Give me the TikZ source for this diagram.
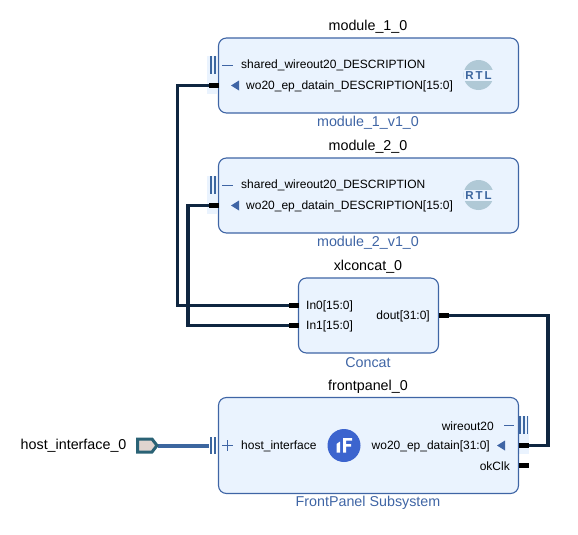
\documentclass[tikz,border=0pt]{standalone}
\usepackage{fontspec}
\setmainfont{Liberation Sans}
\definecolor{boxfill}{HTML}{EAF3FE}
\definecolor{boxline}{HTML}{3F65A5}
\definecolor{wirec}{HTML}{0F2640}
\definecolor{buscol}{HTML}{3C669F}
\definecolor{rtlc}{HTML}{B0C9D6}
\definecolor{fpc}{HTML}{3C64CE}
\definecolor{extfill}{HTML}{E0D4CF}
\definecolor{extline}{HTML}{2A6275}
\tikzset{x=1pt,y=-1pt,
 ipbox/.style={draw=boxline,fill=boxfill,line width=1.1pt,rounded corners=8pt,inner sep=0pt},
 inst/.style={font=\fontsize{14.3}{16}\selectfont,text=black,inner sep=0pt},
 ipname/.style={font=\fontsize{14.3}{16}\selectfont,text=boxline,inner sep=0pt},
 pinl/.style={font=\fontsize{12}{14}\selectfont,text=black,inner sep=0pt},
 wire/.style={draw=wirec,line width=3.2pt,line join=miter},
 stub/.style={draw=black,line width=4.6pt},
 busw/.style={draw=buscol,line width=4pt},
 tri/.style={fill=boxline,draw=none},
 bar/.style={draw=buscol,line width=1.6pt}}
\newcommand{\rtlicon}[2]{%
 \fill[rtlc] (#1,#2) circle[radius=15];
 \fill[boxfill] (#1-15,#2-5) rectangle (#1+15,#2+5.5);
 \node[inner sep=0pt,font=\fontsize{11.5}{12}\selectfont\bfseries,text=buscol] at (#1,#2+0.5) {R\,T\,L};}
\newcommand{\barsl}[2]{%
 \fill[boxfill] (#1-1,#2-9) rectangle (#1+9,#2+29);
 \draw[bar] (#1+3,#2-9) -- (#1+3,#2+9);
 \draw[bar] (#1+7,#2-9) -- (#1+7,#2+9);}
\begin{document}
\begin{tikzpicture}
\useasboundingbox (0,0) rectangle (578,535);
% highlights and bus bars
\barsl{208}{65}
\barsl{208}{185}
% boxes
\path[ipbox] (218.5,38) rectangle (518.5,113);
\coordinate (m1) at (218.5,85.5);
\path[ipbox] (218.5,158) rectangle (518.5,233);
\coordinate (m2) at (218.5,205.5);
\path[ipbox] (298.5,278) rectangle (438.5,353);
\coordinate (c0) at (298.5,305.5);
\coordinate (c1) at (298.5,325.5);
\coordinate (cd) at (438.5,315.5);
\fill[boxfill] (518,416) rectangle (529,454);
\path[ipbox] (218.5,397.5) rectangle (518.5,493.5);
\coordinate (fw) at (518.5,445.5);
\coordinate (fk) at (518.5,465.5);
% titles
\node[inst] (t1) at (368,26.5) {module\_1\_0};
\node[ipname] (n1) at (368,123) {module\_1\_v1\_0};
\node[inst] (t2) at (368,146.5) {module\_2\_0};
\node[ipname] (n2) at (368,243) {module\_2\_v1\_0};
\node[inst] (t3) at (368,266.5) {xlconcat\_0};
\node[ipname] (n3) at (368,363) {Concat};
\node[inst] (t4) at (368,386.5) {frontpanel\_0};
\node[ipname] (n4) at (368,503) {FrontPanel Subsystem};
\node[inst,anchor=west] (hl) at (20.5,446) {host\_interface\_0};
% pin labels module 1
\draw[boxline,line width=.8pt] (222,65) -- (233,65);
\node[pinl,anchor=west] at (241,65.5) {shared\_wireout20\_DESCRIPTION};
\fill[tri] (239,80.5) -- (239,90.5) -- (231,85.5) -- cycle;
\node[pinl,anchor=west] at (246,86) {wo20\_ep\_datain\_DESCRIPTION[15:0]};
\rtlicon{478.5}{75}
% pin labels module 2
\draw[boxline,line width=.8pt] (222,185) -- (233,185);
\node[pinl,anchor=west] at (241,185.5) {shared\_wireout20\_DESCRIPTION};
\fill[tri] (239,200.5) -- (239,210.5) -- (231,205.5) -- cycle;
\node[pinl,anchor=west] at (246,206) {wo20\_ep\_datain\_DESCRIPTION[15:0]};
\rtlicon{478.5}{195}
% concat
\node[pinl,anchor=west] at (306,306) {In0[15:0]};
\node[pinl,anchor=west] at (306,326) {In1[15:0]};
\node[pinl,anchor=east] at (430,316) {dout[31:0]};
% frontpanel
\draw[boxline,line width=.8pt] (222,445.5) -- (233,445.5) (227.5,440) -- (227.5,451);
\node[pinl,anchor=west] at (241,446) {host\_interface};
\fill[fpc] (344,445.5) circle[radius=16.5];
\fill[white] (343,438) rectangle (352,440.5) (343,438) rectangle (346,452.5) (346,444) rectangle (351,446.5);
\fill[white] (336.5,444) -- (340,441.5) -- (340,452.5) -- (336.5,452.5) -- cycle;
\node[pinl,anchor=east] at (494,426) {wireout20};
\draw[boxline,line width=.8pt] (504,425) -- (514,425);
\draw[bar] (520,416) -- (520,434) (524,416) -- (524,434) (527.5,416) -- (527.5,434);
\node[pinl,anchor=east] at (490,446) {wo20\_ep\_datain[31:0]};
\fill[tri] (505,440.5) -- (505,450.5) -- (497,445.5) -- cycle;
\node[pinl,anchor=east] at (510,466) {okClk};
% wires
\draw[wire] ([xshift=-10]m1) -- (177.5,85.5) -- (177.5,305.5) -- ([xshift=-10]c0);
\draw[wire] ([xshift=-10]m2) -- (188,205.5) -- (188,325.5) -- ([xshift=-10]c1);
\draw[wire] ([xshift=10]cd) -- (548,315.5) -- (548,445.5) -- ([xshift=10]fw);
\draw[stub] (m1) -- ++(-10,0);
\draw[stub] (m2) -- ++(-10,0);
\draw[stub] (c0) -- ++(-10,0);
\draw[stub] (c1) -- ++(-10,0);
\draw[stub] (cd) -- ++(10,0);
\draw[stub] (fw) -- ++(10,0);
\draw[stub] (fk) -- ++(10,0);
% host interface
\draw[busw] (158,445.5) -- (209,445.5);
\draw[bar] (211,437) -- (211,454) (215,437) -- (215,454);
\path[draw=extline,fill=extfill,line width=3pt] (137.5,439) -- (152,439) -- (157,445.5) -- (152,452) -- (137.5,452) -- cycle;
\end{tikzpicture}
\end{document}
